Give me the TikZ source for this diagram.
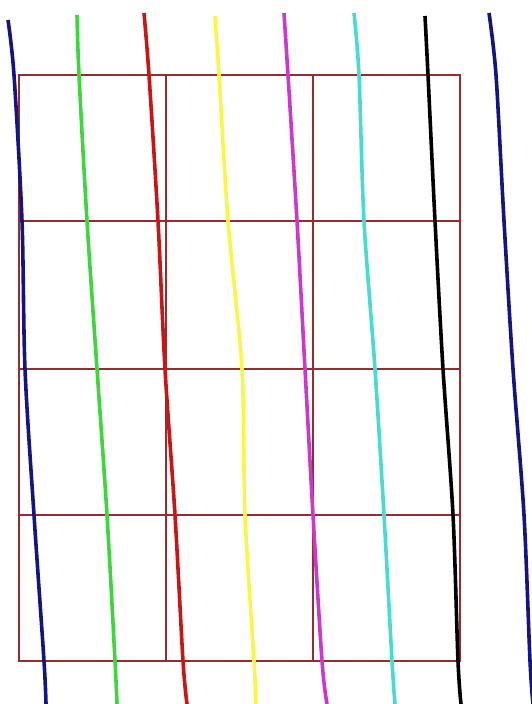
\documentclass[tikz,border=0pt]{standalone}
\usepackage{amsmath}

\definecolor{gridred}{RGB}{150,45,45}
\definecolor{navyline}{RGB}{20,20,130}
\definecolor{greenline}{RGB}{60,215,60}
\definecolor{redline}{RGB}{205,20,20}
\definecolor{yellowline}{RGB}{250,245,70}
\definecolor{magline}{RGB}{205,55,205}
\definecolor{cyanline}{RGB}{70,220,210}

\begin{document}
\begin{tikzpicture}[x=1pt,y=-1pt]
                \useasboundingbox (0,0) rectangle (532,704);
                \fill[white] (0,0) rectangle (532,704);

                % grid
                \draw[gridred, line width=1.5pt] (19,75) rectangle (460,661);
                \foreach \gx in {166,313}
                    \draw[gridred, line width=1.5pt] (\gx,75) -- (\gx,661);
                \foreach \gy in {221,369,515}
                    \draw[gridred, line width=1.5pt] (19,\gy) -- (460,\gy);

                % curves
                \draw[navyline, line width=3.6pt] plot[smooth] coordinates {(8,20) (14,75) (22,221) (25,369) (34,515) (44,661) (46,704)};
                \draw[greenline, line width=3.6pt] plot[smooth] coordinates {(77,15) (79,75) (87,221) (97,369) (107,515) (115,661) (117,704)};
                \draw[redline, line width=3.6pt] plot[smooth] coordinates {(144,13) (149,75) (158,221) (165,369) (175,515) (183,661) (187,704)};
                \draw[yellowline, line width=3.6pt] plot[smooth] coordinates {(215,16) (219,75) (228,221) (242,369) (245,515) (254,661) (256,704)};
                \draw[magline, line width=3.6pt] plot[smooth] coordinates {(284,13) (288,75) (297,221) (305,369) (313,515) (322,661) (327,704)};
                \draw[cyanline, line width=3.6pt] plot[smooth] coordinates {(354,13) (359,75) (364,221) (375,369) (384,515) (392,661) (395,704)};
                \draw[black, line width=3.6pt] plot[smooth] coordinates {(425,16) (428,75) (435,221) (443,369) (453,515) (458,661) (461,704)};
                \draw[navyline, line width=3.6pt] plot[smooth] coordinates {(489,13) (496,75) (504,221) (513,369) (524,515) (530,661) (533,704)};

            \end{tikzpicture}
\end{document}
